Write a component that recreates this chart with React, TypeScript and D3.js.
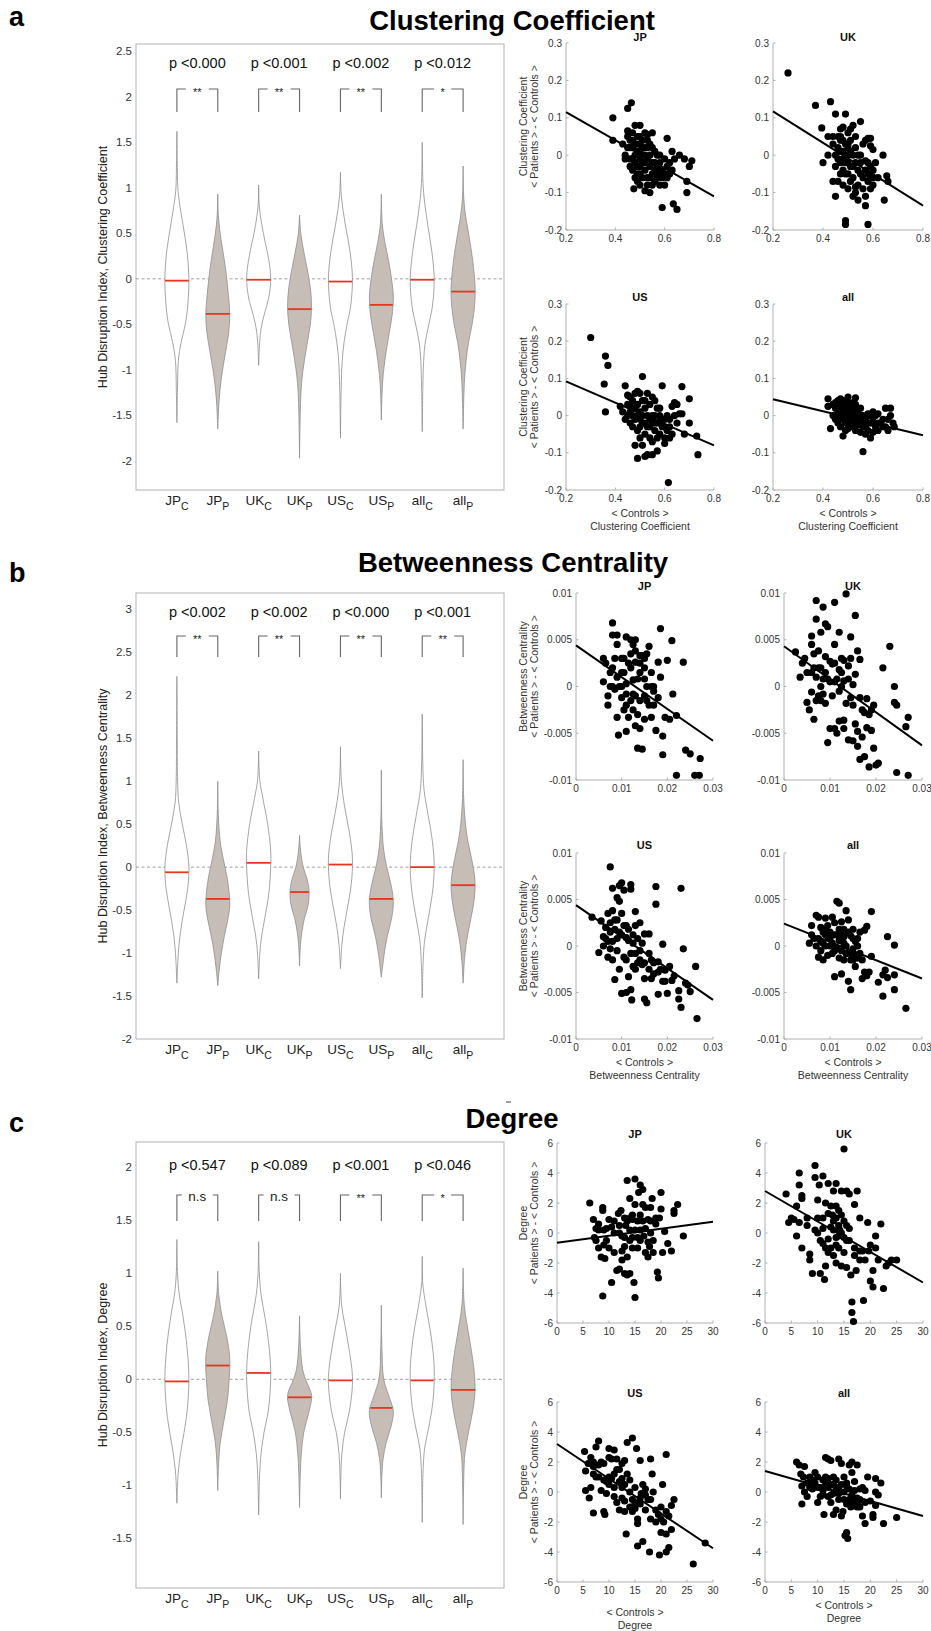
import React from 'react';
import * as d3 from 'd3';

const FONT = "'Liberation Sans', Arial, Helvetica, sans-serif";

// ---------- categories ----------
const violinGroups = ['JP', 'JP', 'UK', 'UK', 'US', 'US', 'all', 'all'];
const violinSubs = ['C', 'P', 'C', 'P', 'C', 'P', 'C', 'P'];
const scatterTitles = ['JP', 'UK', 'US', 'all'];

// ---------- a: Clustering Coefficient ----------
const ccPValues = ['p <0.000', 'p <0.001', 'p <0.002', 'p <0.012'];
const ccSig = ['**', '**', '**', '*'];
const ccMedians = [-0.02, -0.385, -0.01, -0.333, -0.03, -0.286, -0.01, -0.14];
const ccYTicks = [2.5, 2, 1.5, 1, 0.5, 0, -0.5, -1, -1.5, -2];
const ccViolins = [
  [[1.62,0],[1.3,0.03],[1.0,0.08],[0.85,0.2],[0.6,0.5],[0.3,0.85],[0,1.0],[-0.3,0.9],[-0.5,0.7],[-0.7,0.35],[-0.9,0.12],[-1.2,0.05],[-1.58,0]],
  [[0.93,0],[0.7,0.05],[0.5,0.2],[0.2,0.55],[0,0.75],[-0.2,0.9],[-0.4,1.0],[-0.6,0.9],[-0.8,0.65],[-1.0,0.4],[-1.2,0.2],[-1.4,0.08],[-1.65,0]],
  [[1.03,0],[0.8,0.05],[0.6,0.25],[0.4,0.55],[0.2,0.85],[0,1.0],[-0.2,0.85],[-0.4,0.45],[-0.55,0.2],[-0.7,0.08],[-0.95,0]],
  [[0.7,0],[0.5,0.1],[0.3,0.35],[0.1,0.65],[-0.1,0.9],[-0.3,1.0],[-0.5,0.9],[-0.7,0.65],[-0.9,0.4],[-1.1,0.2],[-1.3,0.1],[-1.6,0.04],[-1.97,0]],
  [[1.17,0],[0.9,0.08],[0.6,0.4],[0.3,0.8],[0,1.0],[-0.3,0.85],[-0.5,0.55],[-0.7,0.3],[-0.9,0.15],[-1.2,0.06],[-1.75,0]],
  [[0.93,0],[0.6,0.08],[0.4,0.3],[0.2,0.6],[0,0.85],[-0.2,1.0],[-0.4,0.9],[-0.6,0.65],[-0.8,0.4],[-1.0,0.2],[-1.2,0.08],[-1.55,0]],
  [[1.5,0],[1.1,0.05],[0.9,0.15],[0.6,0.45],[0.3,0.8],[0,1.0],[-0.3,0.85],[-0.5,0.55],[-0.7,0.25],[-0.9,0.12],[-1.2,0.05],[-1.68,0]],
  [[1.24,0],[0.9,0.05],[0.7,0.2],[0.5,0.45],[0.2,0.8],[-0.1,1.0],[-0.3,0.95],[-0.5,0.75],[-0.7,0.45],[-0.9,0.25],[-1.1,0.12],[-1.3,0.06],[-1.65,0]],
];
const ccXTicks = [0.2, 0.4, 0.6, 0.8];
const ccSYTicks = [-0.2, -0.1, 0, 0.1, 0.2, 0.3];
const ccFits = [[0.2,0.115,0.8,-0.11],[0.2,0.117,0.8,-0.135],[0.2,0.092,0.8,-0.08],[0.2,0.044,0.8,-0.053]];
const ccJP = [[0.39,0.1],[0.39,0.04],[0.45,0.125],[0.465,0.14],[0.43,0.03],[0.44,0.0],[0.45,0.05],[0.45,0.065],[0.46,0.02],[0.46,-0.01],[0.47,0.06],[0.47,0.04],[0.47,-0.04],[0.475,-0.09],[0.48,0.08],[0.48,0.0],[0.48,-0.02],[0.49,0.05],[0.49,0.03],[0.49,-0.03],[0.5,0.08],[0.5,0.01],[0.5,-0.01],[0.5,-0.05],[0.51,0.04],[0.51,0.0],[0.51,-0.02],[0.52,0.06],[0.52,0.02],[0.52,-0.04],[0.52,-0.095],[0.53,0.055],[0.53,-0.01],[0.53,-0.06],[0.54,0.03],[0.54,0.0],[0.54,-0.03],[0.54,-0.1],[0.55,0.06],[0.55,-0.02],[0.55,-0.05],[0.55,-0.08],[0.56,0.01],[0.56,-0.04],[0.57,0.0],[0.57,-0.03],[0.57,-0.06],[0.58,-0.02],[0.58,-0.05],[0.59,-0.04],[0.59,-0.14],[0.6,-0.01],[0.6,-0.05],[0.6,-0.08],[0.61,0.045],[0.61,-0.03],[0.62,-0.02],[0.62,-0.05],[0.63,0.01],[0.63,-0.04],[0.635,-0.13],[0.64,-0.01],[0.65,-0.145],[0.66,0.0],[0.68,-0.01],[0.69,-0.1],[0.69,-0.07],[0.7,-0.03],[0.71,-0.015],[0.47,0.02],[0.48,-0.06],[0.5,0.03],[0.53,0.02],[0.56,-0.07],[0.58,-0.08],[0.44,-0.01],[0.46,-0.03],[0.49,-0.07],[0.52,0.0],[0.51,-0.06],
  [0.45,0.02],[0.46,0.04],[0.47,-0.01],[0.48,0.03],[0.49,0.01],[0.5,0.05],[0.5,-0.03],[0.51,0.02],[0.52,-0.02],[0.53,0.04],[0.54,-0.06],[0.55,0.02],[0.56,-0.02],[0.57,-0.04],[0.58,0.0],[0.59,-0.06],[0.61,-0.06],[0.53,-0.08],[0.49,-0.05],[0.5,-0.08]];
const ccUK = [[0.26,0.22],[0.37,0.133],[0.395,0.073],[0.4,-0.02],[0.42,0.0],[0.42,0.05],[0.43,0.143],[0.44,-0.07],[0.44,0.03],[0.45,0.11],[0.45,0.0],[0.45,-0.11],[0.46,0.02],[0.46,-0.01],[0.46,-0.07],[0.47,0.07],[0.47,0.04],[0.47,-0.02],[0.48,0.075],[0.48,0.01],[0.48,-0.04],[0.48,-0.08],[0.49,0.11],[0.49,0.03],[0.49,-0.02],[0.49,-0.175],[0.49,-0.185],[0.5,0.06],[0.5,0.0],[0.5,-0.05],[0.5,-0.09],[0.51,0.04],[0.51,-0.03],[0.51,-0.07],[0.52,0.08],[0.52,0.0],[0.52,-0.06],[0.52,-0.11],[0.53,0.05],[0.53,-0.02],[0.53,-0.085],[0.54,0.0],[0.54,-0.04],[0.55,0.09],[0.55,0.0],[0.55,-0.02],[0.56,0.03],[0.56,-0.06],[0.57,0.04],[0.57,-0.015],[0.57,-0.11],[0.57,-0.135],[0.58,0.045],[0.58,-0.05],[0.58,-0.07],[0.58,-0.185],[0.59,0.045],[0.59,0.025],[0.59,-0.06],[0.59,-0.09],[0.6,0.015],[0.6,-0.04],[0.6,-0.08],[0.61,-0.02],[0.62,-0.06],[0.64,0.0],[0.645,-0.12],[0.655,-0.055],[0.66,-0.07],[0.44,0.05],[0.47,-0.05],[0.5,0.03],[0.53,-0.1],[0.54,-0.12],[0.56,-0.09],[0.51,0.07],[0.48,-0.01],
  [0.46,0.05],[0.47,0.01],[0.48,0.04],[0.49,-0.05],[0.5,0.02],[0.5,-0.02],[0.51,0.01],[0.52,-0.03],[0.53,0.02],[0.54,-0.08],[0.55,-0.05],[0.57,-0.04],[0.58,-0.02],[0.59,-0.03],[0.6,-0.06],[0.45,-0.03],[0.47,0.05]];
const ccUS = [[0.3,0.21],[0.36,0.16],[0.37,0.135],[0.355,0.085],[0.36,0.01],[0.42,0.025],[0.43,0.01],[0.44,0.08],[0.44,-0.01],[0.45,0.055],[0.45,0.03],[0.46,0.05],[0.46,-0.02],[0.47,0.04],[0.47,0.0],[0.47,-0.03],[0.48,0.02],[0.48,-0.08],[0.49,0.065],[0.49,0.0],[0.49,-0.04],[0.49,-0.115],[0.5,0.06],[0.5,0.01],[0.5,-0.03],[0.51,0.105],[0.51,0.04],[0.51,-0.02],[0.51,-0.08],[0.52,0.02],[0.52,-0.05],[0.52,-0.11],[0.53,0.0],[0.53,-0.03],[0.53,-0.105],[0.54,0.03],[0.54,-0.01],[0.54,-0.06],[0.55,0.05],[0.55,-0.02],[0.55,-0.07],[0.55,-0.105],[0.56,0.0],[0.56,-0.04],[0.57,0.02],[0.57,-0.02],[0.57,-0.095],[0.58,0.0],[0.58,-0.05],[0.59,0.08],[0.59,-0.03],[0.6,-0.01],[0.6,-0.06],[0.6,-0.075],[0.61,0.0],[0.61,-0.04],[0.615,-0.18],[0.62,-0.03],[0.63,0.025],[0.63,-0.05],[0.64,0.035],[0.64,0.03],[0.65,0.03],[0.65,-0.02],[0.66,0.005],[0.67,0.078],[0.67,0.005],[0.68,-0.05],[0.7,0.045],[0.7,-0.02],[0.73,-0.055],[0.735,-0.105],[0.46,0.01],[0.48,0.06],[0.5,-0.06],[0.53,0.06],[0.56,0.04],[0.58,-0.015],
  [0.45,0.0],[0.46,0.03],[0.47,0.02],[0.48,-0.01],[0.49,0.03],[0.5,-0.01],[0.51,0.0],[0.52,0.04],[0.52,-0.02],[0.54,-0.03],[0.55,0.0],[0.56,-0.02],[0.57,-0.06],[0.58,0.02],[0.6,-0.03],[0.62,-0.01],[0.64,0.0],[0.62,-0.06]];
const ccAll = [[0.42,0.045],[0.42,0.025],[0.43,-0.035],[0.44,0.03],[0.44,0.0],[0.45,0.02],[0.45,-0.01],[0.46,0.04],[0.46,0.01],[0.46,-0.02],[0.47,0.045],[0.47,0.03],[0.47,0.0],[0.47,-0.03],[0.48,0.04],[0.48,0.02],[0.48,-0.01],[0.48,-0.055],[0.49,0.035],[0.49,0.005],[0.49,-0.02],[0.5,0.05],[0.5,0.02],[0.5,0.0],[0.5,-0.015],[0.51,0.03],[0.51,-0.005],[0.51,-0.03],[0.52,0.02],[0.52,0.0],[0.52,-0.02],[0.53,0.048],[0.53,0.01],[0.53,-0.04],[0.54,0.0],[0.54,-0.025],[0.55,0.02],[0.55,-0.01],[0.55,-0.045],[0.56,0.0],[0.56,-0.03],[0.56,-0.097],[0.57,-0.01],[0.57,-0.05],[0.58,-0.02],[0.58,-0.04],[0.59,0.0],[0.59,-0.06],[0.6,-0.02],[0.6,-0.045],[0.61,0.0],[0.61,-0.03],[0.62,0.005],[0.62,-0.04],[0.63,-0.02],[0.64,-0.01],[0.65,0.02],[0.65,-0.03],[0.66,-0.04],[0.67,0.02],[0.67,0.0],[0.68,-0.02],[0.685,-0.03],[0.49,-0.04],[0.53,0.03],[0.47,0.015],[0.5,-0.035],[0.52,0.035],[0.58,0.005],[0.6,0.01],
  [0.45,0.035],[0.46,-0.005],[0.47,0.02],[0.48,0.0],[0.49,0.02],[0.49,-0.01],[0.5,0.035],[0.5,0.01],[0.51,0.015],[0.51,-0.015],[0.52,0.01],[0.53,-0.01],[0.53,-0.025],[0.54,0.015],[0.55,0.0],[0.56,-0.015],[0.57,-0.03],[0.59,-0.02],[0.6,-0.005],[0.62,-0.02],[0.64,-0.03],[0.66,-0.01]];

// ---------- b: Betweenness Centrality ----------
const bcPValues = ['p <0.002', 'p <0.002', 'p <0.000', 'p <0.001'];
const bcSig = ['**', '**', '**', '**'];
const bcMedians = [-0.06, -0.37, 0.05, -0.29, 0.03, -0.37, 0.0, -0.21];
const bcYTicks = [3, 2.5, 2, 1.5, 1, 0.5, 0, -0.5, -1, -1.5, -2];
const bcViolins = [
  [[2.22,0],[1.5,0.03],[1.0,0.06],[0.75,0.15],[0.5,0.45],[0.25,0.8],[0,1.0],[-0.25,0.9],[-0.5,0.6],[-0.75,0.3],[-1.0,0.12],[-1.35,0]],
  [[1.0,0],[0.6,0.05],[0.3,0.2],[0.1,0.45],[-0.1,0.75],[-0.3,0.95],[-0.45,1.0],[-0.6,0.85],[-0.8,0.55],[-1.0,0.3],[-1.2,0.12],[-1.38,0]],
  [[1.35,0],[1.0,0.1],[0.8,0.35],[0.5,0.75],[0.2,1.0],[0,1.0],[-0.3,0.85],[-0.6,0.5],[-0.8,0.25],[-1.0,0.1],[-1.3,0]],
  [[0.37,0],[0.2,0.08],[0,0.3],[-0.15,0.65],[-0.3,0.8],[-0.45,0.7],[-0.6,0.4],[-0.75,0.2],[-0.9,0.08],[-1.15,0]],
  [[1.4,0],[1.0,0.08],[0.7,0.35],[0.4,0.75],[0.1,1.0],[-0.2,0.9],[-0.5,0.55],[-0.7,0.3],[-0.9,0.12],[-1.18,0]],
  [[1.13,0],[0.5,0.05],[0.2,0.2],[0,0.45],[-0.2,0.8],[-0.4,1.0],[-0.6,0.85],[-0.8,0.5],[-1.0,0.25],[-1.28,0]],
  [[1.78,0],[1.2,0.05],[0.9,0.15],[0.6,0.5],[0.3,0.85],[0,1.0],[-0.3,0.85],[-0.6,0.5],[-0.85,0.2],[-1.1,0.08],[-1.52,0]],
  [[1.25,0],[0.8,0.05],[0.5,0.2],[0.3,0.4],[0.1,0.7],[-0.1,0.95],[-0.25,1.0],[-0.45,0.85],[-0.7,0.5],[-0.9,0.25],[-1.1,0.1],[-1.35,0]],
];
const bcXTicks = [0, 0.01, 0.02, 0.03];
const bcSYTicks = [-0.01, -0.005, 0, 0.005, 0.01];
const bcFits = [[0,0.0044,0.03,-0.0058],[0,0.0043,0.03,-0.0063],[0,0.0044,0.03,-0.0058],[0,0.0024,0.03,-0.0035]];
const bcJP = [[0.006,0.0005],[0.006,0.003],[0.0065,0.0025],[0.007,-0.001],[0.007,-0.002],[0.0075,0.0],[0.008,0.0068],[0.008,0.0055],[0.008,0.002],[0.008,0.0],[0.0085,-0.0003],[0.009,0.0055],[0.009,0.0045],[0.009,0.001],[0.009,-0.0033],[0.0093,-0.0052],[0.01,0.003],[0.01,0.0],[0.01,-0.0012],[0.0105,0.0015],[0.011,0.0053],[0.011,0.0003],[0.011,-0.002],[0.011,-0.0048],[0.0115,-0.0033],[0.012,0.005],[0.012,0.002],[0.012,-0.0015],[0.0125,0.0045],[0.0125,0.0007],[0.013,0.005],[0.013,0.0026],[0.013,-0.001],[0.013,-0.0042],[0.0135,-0.0066],[0.0135,-0.003],[0.014,0.0015],[0.014,-0.0015],[0.014,-0.0045],[0.0145,0.0033],[0.0145,-0.0067],[0.015,0.003],[0.015,0.002],[0.015,-0.0035],[0.0155,0.0],[0.016,0.0043],[0.016,-0.002],[0.0165,-0.0033],[0.017,0.0],[0.017,-0.0005],[0.0175,-0.0047],[0.018,-0.0012],[0.018,0.0026],[0.0185,0.001],[0.0185,0.0062],[0.019,-0.0053],[0.019,-0.0073],[0.0195,-0.0033],[0.02,0.0028],[0.0205,-0.0035],[0.021,0.0049],[0.0212,-0.0008],[0.022,-0.0031],[0.022,-0.0095],[0.0235,0.0026],[0.024,-0.0068],[0.025,-0.0072],[0.026,-0.0095],[0.027,-0.0095],[0.0272,-0.0077],[0.0105,0.003],[0.0125,-0.0008],[0.015,0.0008],[0.0165,0.0],[0.0095,0.0],[0.0115,0.0025],[0.014,0.0033],[0.0155,-0.0015],
  [0.0075,0.0015],[0.0085,0.003],[0.01,0.0015],[0.011,-0.0008],[0.012,0.0035],[0.0125,-0.0025],[0.0135,0.0008],[0.014,0.0025],[0.015,-0.001],[0.0155,0.0035],[0.0165,0.0015],[0.017,-0.002],[0.0105,-0.0025],[0.013,0.0038]];
const bcUK = [[0.0025,0.0037],[0.0035,0.001],[0.004,0.0025],[0.0045,0.003],[0.005,0.0015],[0.005,-0.0017],[0.0055,-0.0025],[0.006,0.0054],[0.006,0.0045],[0.006,0.0015],[0.006,-0.0006],[0.0065,0.002],[0.0065,-0.0035],[0.007,0.0092],[0.007,0.0072],[0.007,0.001],[0.0075,0.0038],[0.0075,-0.001],[0.008,0.0058],[0.008,0.002],[0.008,0.0],[0.008,-0.0015],[0.0085,0.0085],[0.0085,0.0008],[0.009,0.0067],[0.009,0.0032],[0.009,-0.0018],[0.0095,0.0064],[0.0095,-0.006],[0.01,0.0027],[0.01,-0.0045],[0.0105,0.0024],[0.011,0.009],[0.011,0.0045],[0.011,0.0005],[0.011,-0.0045],[0.0115,-0.005],[0.012,0.0058],[0.012,0.0018],[0.012,-0.0037],[0.0125,0.003],[0.0125,0.0],[0.013,0.0028],[0.013,-0.0036],[0.013,-0.0045],[0.0135,0.0099],[0.014,0.0008],[0.014,-0.0057],[0.0145,0.0053],[0.0145,-0.0012],[0.015,-0.002],[0.015,-0.0058],[0.0155,0.0076],[0.0155,0.0013],[0.0155,-0.004],[0.016,0.0038],[0.016,-0.0048],[0.016,-0.0064],[0.0165,0.0029],[0.0165,-0.0078],[0.017,-0.0025],[0.017,-0.0054],[0.0175,-0.0075],[0.018,-0.0013],[0.018,-0.0044],[0.0185,-0.0086],[0.019,-0.0025],[0.019,-0.0047],[0.0195,-0.0066],[0.0195,-0.002],[0.02,-0.0084],[0.0205,-0.0082],[0.0215,0.002],[0.023,0.0043],[0.024,0.0],[0.024,-0.0017],[0.0245,-0.002],[0.0245,-0.0092],[0.0265,-0.0043],[0.027,-0.0033],[0.027,-0.0095],[0.0115,0.0008],[0.013,0.0006],[0.0145,0.003],[0.0095,0.0008],
  [0.0065,0.0035],[0.007,-0.0015],[0.0075,0.002],[0.0085,-0.0008],[0.009,0.0015],[0.01,0.0005],[0.0105,-0.001],[0.011,0.0025],[0.012,-0.0005],[0.0125,0.0015],[0.0135,-0.0018],[0.014,0.0022],[0.015,0.0002],[0.0165,-0.0012],[0.0175,-0.0028],[0.0185,-0.003]];
const bcUS = [[0.0035,0.0031],[0.005,-0.0007],[0.0055,0.0027],[0.006,0.001],[0.006,0.0],[0.0065,0.002],[0.007,0.0035],[0.007,0.0005],[0.007,-0.0012],[0.0075,0.0085],[0.0075,0.0025],[0.0075,-0.0003],[0.008,0.0062],[0.008,0.0038],[0.008,0.0005],[0.008,-0.0015],[0.0085,0.0018],[0.0085,-0.0036],[0.009,0.0052],[0.009,0.0028],[0.009,-0.0005],[0.0095,0.0065],[0.0095,0.0048],[0.0095,0.0015],[0.0095,-0.0025],[0.01,0.0068],[0.01,0.0035],[0.01,-0.0051],[0.0105,0.006],[0.0105,-0.0012],[0.011,0.0022],[0.011,-0.005],[0.0115,0.0006],[0.0115,-0.0033],[0.012,0.0066],[0.012,0.0061],[0.012,-0.0047],[0.0122,-0.0058],[0.0125,0.0012],[0.0125,-0.0022],[0.013,0.0037],[0.013,0.0022],[0.013,-0.0008],[0.0135,0.0008],[0.0135,-0.0018],[0.014,0.0025],[0.014,-0.0005],[0.0145,-0.002],[0.015,0.0013],[0.015,-0.0035],[0.015,-0.0057],[0.0155,-0.0061],[0.016,0.0013],[0.016,-0.0008],[0.0165,-0.0035],[0.017,-0.003],[0.0175,0.0064],[0.0175,0.0045],[0.018,-0.0017],[0.018,-0.0052],[0.0185,-0.0025],[0.019,0.0002],[0.019,-0.0038],[0.0195,-0.0026],[0.02,-0.0051],[0.0205,-0.0022],[0.021,-0.0037],[0.0215,-0.0032],[0.0225,-0.0048],[0.0225,-0.0057],[0.023,0.0062],[0.023,-0.0066],[0.0235,-0.0003],[0.024,-0.004],[0.0245,-0.0042],[0.025,-0.0049],[0.0262,-0.0022],[0.0265,-0.0078],[0.0165,-0.0015],[0.0145,0.0003],[0.0125,0.0003],[0.011,0.0009],
  [0.0065,0.0008],[0.0075,0.0015],[0.0085,0.0028],[0.009,0.0008],[0.01,0.0012],[0.0105,0.0022],[0.011,-0.0015],[0.0115,0.0018],[0.012,-0.0008],[0.013,-0.0025],[0.014,-0.0015],[0.015,-0.0018],[0.016,-0.0025],[0.017,-0.0018],[0.018,-0.0028],[0.0195,-0.0038]];
const bcAll = [[0.0055,0.0003],[0.006,0.0022],[0.006,0.0012],[0.0065,0.0008],[0.007,0.0033],[0.007,0.0],[0.0075,0.0031],[0.0075,-0.0012],[0.008,0.002],[0.008,0.0005],[0.008,-0.0005],[0.0085,0.0015],[0.0085,-0.0015],[0.009,0.003],[0.009,0.0018],[0.009,0.0],[0.0095,0.001],[0.0095,-0.001],[0.01,0.0015],[0.01,0.0],[0.0105,0.0031],[0.0105,0.0003],[0.011,0.0025],[0.011,-0.0005],[0.011,-0.0033],[0.0115,0.0048],[0.0115,0.0012],[0.012,0.0046],[0.012,0.0006],[0.012,-0.0013],[0.0125,0.0026],[0.0125,-0.003],[0.013,0.0018],[0.013,0.0003],[0.013,-0.0015],[0.0135,0.0038],[0.0135,0.0],[0.014,0.0028],[0.014,-0.0007],[0.014,-0.0038],[0.0145,-0.0047],[0.0145,0.0011],[0.015,0.0018],[0.015,-0.0003],[0.015,-0.0015],[0.0155,0.0005],[0.0155,-0.0022],[0.016,-0.0013],[0.016,0.0],[0.0165,-0.0008],[0.017,-0.0035],[0.0175,0.0017],[0.0175,-0.0028],[0.018,0.0021],[0.018,-0.0032],[0.0185,-0.0028],[0.019,0.0037],[0.019,-0.0011],[0.0205,-0.0039],[0.0215,-0.0031],[0.0215,-0.0054],[0.022,-0.0026],[0.0225,0.001],[0.0225,-0.0034],[0.024,0.0001],[0.024,-0.0031],[0.024,-0.0047],[0.0265,-0.0067],[0.0125,0.0012],[0.0095,0.0022],[0.0145,-0.0008],[0.0165,0.0015],
  [0.0075,0.0008],[0.0085,0.0003],[0.009,0.0012],[0.01,0.0008],[0.0105,-0.0008],[0.011,0.0012],[0.0115,-0.0002],[0.012,0.0018],[0.0125,-0.0005],[0.013,0.001],[0.0135,-0.0008],[0.014,0.0015],[0.0145,-0.0015],[0.015,0.0008],[0.0155,-0.001],[0.016,0.0008],[0.017,-0.0015]];

// ---------- c: Degree ----------
const dgPValues = ['p <0.547', 'p <0.089', 'p <0.001', 'p <0.046'];
const dgSig = ['n.s', 'n.s', '**', '*'];
const dgMedians = [-0.02, 0.13, 0.06, -0.17, -0.01, -0.27, -0.01, -0.1];
const dgYTicks = [2, 1.5, 1, 0.5, 0, -0.5, -1, -1.5];
const dgViolins = [
  [[1.32,0],[1.0,0.05],[0.8,0.2],[0.6,0.5],[0.3,0.85],[0,1.0],[-0.3,0.85],[-0.5,0.6],[-0.7,0.3],[-0.9,0.1],[-1.17,0]],
  [[1.02,0],[0.8,0.08],[0.6,0.35],[0.4,0.75],[0.2,1.0],[0,0.95],[-0.2,0.8],[-0.4,0.5],[-0.6,0.2],[-0.8,0.07],[-1.05,0]],
  [[1.3,0],[1.0,0.05],[0.8,0.2],[0.5,0.65],[0.2,0.95],[0,1.0],[-0.3,0.8],[-0.5,0.45],[-0.7,0.2],[-0.9,0.08],[-1.28,0]],
  [[0.6,0],[0.3,0.08],[0.1,0.25],[0,0.5],[-0.15,1.0],[-0.3,0.8],[-0.5,0.35],[-0.7,0.15],[-0.9,0.06],[-1.21,0]],
  [[1.0,0],[0.7,0.1],[0.4,0.55],[0.1,0.95],[-0.05,1.0],[-0.3,0.75],[-0.5,0.35],[-0.7,0.12],[-0.9,0.04],[-1.13,0]],
  [[0.7,0],[0.3,0.05],[0,0.2],[-0.15,0.6],[-0.3,1.0],[-0.45,0.8],[-0.6,0.4],[-0.75,0.15],[-0.9,0.05],[-1.12,0]],
  [[1.16,0],[0.9,0.05],[0.7,0.3],[0.4,0.75],[0.1,1.0],[-0.2,0.9],[-0.45,0.55],[-0.65,0.2],[-0.9,0.06],[-1.35,0]],
  [[1.05,0],[0.7,0.1],[0.4,0.5],[0.15,0.85],[-0.1,1.0],[-0.3,0.8],[-0.5,0.45],[-0.7,0.15],[-0.9,0.06],[-1.37,0]],
];
const dgXTicks = [0, 5, 10, 15, 20, 25, 30];
const dgSYTicks = [-6, -4, -2, 0, 2, 4, 6];
const dgFits = [[0,-0.65,30,0.75],[0,2.8,30,-3.3],[0,3.2,30,-3.75],[0,1.4,30,-1.6]];
const dgJP = [[6.3,2.0],[7.0,0.9],[7.2,-0.3],[7.5,-0.5],[7.5,0.3],[8,0.6],[8,-1.0],[8.5,-1.6],[8.8,1.7],[8.8,1.5],[8.8,-4.2],[9,0.2],[9,-0.8],[9.2,-1.7],[9.5,-0.5],[10,0.9],[10.5,-3.3],[11,0.0],[11,-1.3],[11.5,-2.5],[11.8,1.3],[12,-2.4],[12.3,1.5],[12.5,-0.2],[12.5,-1.2],[13,-0.9],[13,-2.7],[13.2,0.5],[13.5,3.5],[13.5,-1.6],[13.5,-2.8],[14,2.3],[14,0.2],[14,-0.5],[14,-2.7],[14.5,1.2],[14.5,-0.3],[14.8,-3.3],[15,3.6],[15,1.9],[15,-4.3],[15.5,0.8],[15.5,-1.0],[15.7,2.7],[16,3.2],[16,0.2],[16,-0.5],[16.5,1.9],[16.5,2.9],[16.7,-0.2],[17,1.7],[17,-1.3],[17.5,0.9],[17.5,-1.6],[18,0.0],[18,1.7],[18.3,2.3],[18.5,-0.5],[18.5,-1.3],[19,0.6],[19,1.0],[19.3,-2.6],[19.5,-3.0],[19.7,1.0],[20,1.6],[20,2.7],[20.3,-1.3],[20.7,0.1],[21.3,-0.7],[22,-1.2],[22.5,1.5],[22.5,1.3],[23.2,1.9],[24.3,-0.2],[10.5,0.4],[12,0.0],[14.5,0.9],[16.5,0.8],[13,1.0],[17.8,-0.9],
  [8,0.2],[9.5,0.3],[10,-1.0],[11,0.8],[12,0.5],[13,-0.3],[13.5,0.8],[14.5,-1.0],[15,0.2],[15.5,-0.3],[16,1.2],[17,0.3],[17.5,-0.6],[18,0.8],[12.5,-1.8],[14,1.0]];
const dgUK = [[4,2.6],[4.5,0.7],[5,1.0],[5.5,0.9],[6,1.8],[6,-0.2],[6.5,4.0],[6.5,3.2],[6.5,0.7],[7,2.5],[7,2.3],[7,-1.0],[8,0.5],[8.5,-1.4],[8.5,-1.8],[9,-2.7],[9.5,4.5],[9.5,3.7],[9.5,0.2],[10,0.0],[10,2.2],[10.3,3.2],[10.5,-0.5],[10.5,-2.7],[11,3.8],[11,1.0],[11,-0.7],[11.3,-3.1],[11.5,2.0],[11.5,-2.2],[12,1.3],[12,-0.4],[12,3.3],[12.5,0.4],[12.5,-1.0],[13,2.8],[13,0.8],[13,-1.5],[13.5,3.3],[13.5,1.8],[13.5,-0.3],[13.5,-2.0],[14,1.5],[14,0.5],[14,-1.0],[14.5,2.8],[14.5,0.0],[14.5,-2.2],[15,5.6],[15,0.8],[15,-1.3],[15.5,2.8],[15.5,0.5],[15.5,-2.3],[16,2.6],[16,-0.5],[16.3,-2.8],[16.5,-4.6],[16.5,-5.3],[16.8,-5.9],[17,1.9],[17,-1.0],[17.3,-2.5],[17.5,2.8],[18,1.0],[18,-1.8],[18.5,-1.2],[18.7,-4.5],[19,-1.8],[19.5,0.7],[19.7,-1.2],[20,-3.2],[20,-0.8],[20.5,-3.6],[20.5,-2.5],[21,-1.0],[21,-0.2],[21.5,-1.8],[22,0.6],[22.5,-3.7],[23,-2.2],[24,-1.8],[25,-1.8],[23.5,-2.0],[12.8,1.2],[14.2,0.2],
  [8,1.0],[10,1.0],[11,0.3],[11.5,-1.0],[12.5,1.8],[13,0.2],[13.5,1.0],[14,-0.2],[14.5,1.2],[15,-0.3],[15.5,-0.5],[16,0.3],[17,-1.5],[12,-1.3],[13.5,-0.8],[18,-1.2]];
const dgUS = [[5.3,2.7],[5.5,1.4],[5.5,0.1],[6,1.9],[6.2,-0.4],[6.5,0.3],[6.5,2.3],[7,2.0],[7,1.7],[7,-1.4],[7.5,3.0],[7.5,1.0],[8,3.4],[8,1.8],[8.5,2.0],[8.5,0.1],[9,-1.3],[9,0.8],[9.2,-1.5],[9.5,0.7],[9.5,-0.1],[10,2.9],[10,2.3],[10,1.0],[10.5,2.2],[11,2.8],[11,1.2],[11,0.3],[11.5,2.2],[11.5,1.5],[11.5,-0.7],[12,0.7],[12,-1.2],[12.5,1.9],[12.5,-0.4],[13,2.1],[13,0.5],[13,-1.3],[13.3,-2.8],[13.5,3.3],[13.5,1.2],[14,0.0],[14,-1.0],[14.5,3.6],[14.5,-1.3],[15,0.3],[15,-0.7],[15.3,2.9],[15.5,-1.8],[15.5,-2.1],[15.5,-3.6],[16,2.1],[16,-0.4],[16.5,0.5],[16.5,-3.3],[17,-0.2],[17,-1.2],[17.5,-0.5],[17.8,-4.0],[18,2.2],[18,-1.8],[18.3,1.2],[18.5,0.0],[19,-2.0],[19.5,-1.5],[19.7,-4.2],[20,-2.7],[20,-1.0],[20.3,0.5],[20.5,-2.0],[21,2.5],[21,-1.3],[21,-2.8],[21,-4.0],[21.5,-3.7],[21.5,-1.6],[22,-2.5],[22.5,-0.5],[22,-0.9],[26.2,-4.8],[28.5,-3.4],[12.5,0.9],[14.5,-0.5],[16.2,-0.1],
  [7,1.2],[8,1.0],[9,1.9],[10,0.5],[10.5,0.9],[11,-0.3],[12,1.5],[12.5,0.3],[13,-0.6],[14,0.8],[14.5,-1.0],[15,-1.1],[16,-0.8],[17,0.2],[18,-0.5],[19,-1.2],[20,-1.8]];
const dgAll = [[6,2.0],[6.5,1.8],[6.8,1.2],[7,0.4],[7,-0.8],[7.3,1.0],[7.5,1.7],[7.5,0.0],[8,0.6],[8,-0.3],[8.5,1.0],[9,0.3],[9.5,1.3],[9.5,0.6],[10,-0.7],[10,1.0],[10.5,-0.3],[10.5,0.3],[11,0.8],[11.2,-1.5],[11.5,2.3],[11.5,0.5],[12,2.2],[12,-0.3],[12.5,2.1],[12.5,0.5],[12.5,-0.7],[13,1.0],[13,-0.1],[13,-1.5],[13.5,0.8],[13.5,-1.2],[14,2.2],[14,0.3],[14,-0.5],[14.5,1.9],[14.5,-1.6],[14.8,-1.3],[15,1.0],[15,0.0],[15.2,-2.9],[15.5,-2.7],[15.7,-3.1],[15.5,0.4],[16,1.8],[16,-0.5],[16.3,-1.0],[16.5,2.0],[16.5,1.3],[16.5,-0.2],[17,0.7],[17,-0.8],[17.5,1.8],[17.5,-0.4],[18,-1.0],[18,0.2],[18.5,0.3],[18.5,-1.6],[19,-2.1],[19,-0.7],[19.5,1.0],[20,-0.6],[20.5,-1.7],[20.5,-1.5],[21,0.9],[21,-0.9],[21,0.0],[21.5,-0.2],[22,0.6],[22.5,-2.1],[25,-1.7],[9,0.2],[11,0.1],[12,0.9],[15.5,0.6],[17.8,-0.6],
  [8.5,0.3],[9,0.8],[10,0.3],[11,-0.2],[11.5,1.0],[12,0.3],[12.5,-0.2],[13,0.5],[13.5,0.2],[14,-0.1],[14.5,0.5],[15,-0.5],[15.5,-0.8],[16,0.2],[16.5,-0.6],[17,0.1],[17.5,-1.0],[18,-0.5],[19,0.1]];

// ---------- drawing ----------
const VX0 = 136, VX1 = 504;
const FILL_P = '#c6bdb7';
const OUTLINE = '#8f8f8f';
const RED = '#e8351f';

function widthAt(profile: number[][], v: number) {
  for (let i = 0; i < profile.length - 1; i++) {
    const [a, wa] = profile[i];
    const [b, wb] = profile[i + 1];
    if (v <= a && v >= b) return wa + (wb - wa) * ((a - v) / (a - b));
  }
  return 0;
}

function ViolinPanel(props: any) {
  const { y0, y1, domain, yTicks, shapes, medians, pValues, sig, pY, brTop, brBot, yLabel } = props;
  const x = d3.scaleLinear().domain([0, 9]).range([VX0, VX1]);
  const y = d3.scaleLinear().domain(domain).range([y1, y0]);
  const w = d3.scaleLinear().domain([0, 1]).range([0, 12]);
  const sigHalf: Record<string, number> = { '**': 11.5, '*': 8.5, 'n.s': 15.5 };
  return (
    <g fontFamily={FONT}>
      <rect x={VX0} y={y0} width={VX1 - VX0} height={y1 - y0} fill="none" stroke="#b3b3b3" strokeWidth={1} />
      {yTicks.map((t: number) => (
        <text key={t} x={VX0 - 4} y={y(t) + 4} fontSize={11.5} fill="#333" textAnchor="end">{String(t)}</text>
      ))}
      <text transform={`translate(107,${(y0 + y1) / 2}) rotate(-90)`} fontSize={12.5} fill="#222" textAnchor="middle">{yLabel}</text>
      <line x1={VX0} x2={VX1} y1={y(0)} y2={y(0)} stroke="#a0a0a0" strokeWidth={1} strokeDasharray="3,2.5" />
      {shapes.map((p: number[][], i: number) => {
        const cx = x(i + 1);
        const area = d3.area<number[]>()
          .y((d) => y(d[0]))
          .x0((d) => cx - w(d[1]))
          .x1((d) => cx + w(d[1]))
          .curve(d3.curveCatmullRom.alpha(0.5));
        const mw = w(widthAt(p, medians[i]));
        return (
          <g key={i}>
            <path d={area(p) || ''} fill={i % 2 === 1 ? FILL_P : 'white'} stroke={OUTLINE} strokeWidth={0.8} />
            <line x1={cx - mw} x2={cx + mw} y1={y(medians[i])} y2={y(medians[i])} stroke={RED} strokeWidth={1.8} />
          </g>
        );
      })}
      {violinGroups.map((g, i) => (
        <text key={i} x={x(i + 1)} y={y1 + 15} fontSize={13.5} fill="#222" textAnchor="middle">
          <tspan>{g}</tspan><tspan dy={5} fontSize={10.5}>{violinSubs[i]}</tspan>
        </text>
      ))}
      {pValues.map((pv: string, k: number) => {
        const xa = x(2 * k + 1), xb = x(2 * k + 2), xm = (xa + xb) / 2;
        const hg = sigHalf[sig[k]];
        return (
          <g key={k}>
            <text x={xm} y={pY} fontSize={14.5} fill="#111" textAnchor="middle">{pv}</text>
            <path d={`M${xa},${brBot}V${brTop}H${xm - hg}M${xm + hg},${brTop}H${xb}V${brBot}`} fill="none" stroke="#666" strokeWidth={1.1} />
            <text x={xm} y={sig[k] === 'n.s' ? brTop + 6 : brTop + 7} fontSize={sig[k] === 'n.s' ? 13.5 : 11} fill="#222" textAnchor="middle">{sig[k]}</text>
          </g>
        );
      })}
    </g>
  );
}

function Scatter(props: any) {
  const { pts, fit, xr, yr, xd, yd, xt, yt, title, titleDy, ylab, xlab, xlabDy } = props;
  const x = d3.scaleLinear().domain(xd).range(xr);
  const y = d3.scaleLinear().domain(yd).range([yr[1], yr[0]]);
  const axis = '#b0b0b0';
  const yc = (yr[0] + yr[1]) / 2 - 10;
  return (
    <g fontFamily={FONT}>
      <line x1={xr[0]} x2={xr[0]} y1={yr[0]} y2={yr[1]} stroke={axis} strokeWidth={1} />
      <line x1={xr[0]} x2={xr[1]} y1={yr[1]} y2={yr[1]} stroke={axis} strokeWidth={1} />
      {yt.map((t: number) => (
        <g key={'y' + t}>
          <line x1={xr[0]} x2={xr[0] + 2.5} y1={y(t)} y2={y(t)} stroke={axis} />
          <text x={xr[0] - 4} y={y(t) + 3.5} fontSize={10} fill="#333" textAnchor="end">{String(t)}</text>
        </g>
      ))}
      {xt.map((t: number) => (
        <g key={'x' + t}>
          <line x1={x(t)} x2={x(t)} y1={yr[1]} y2={yr[1] - 2.5} stroke={axis} />
          <text x={x(t)} y={yr[1] + 12} fontSize={10} fill="#333" textAnchor="middle">{String(t)}</text>
        </g>
      ))}
      {pts.map((p: number[], i: number) => (
        <circle key={i} cx={x(p[0])} cy={y(p[1])} r={3.6} fill="#000" />
      ))}
      <line x1={x(fit[0])} y1={y(fit[1])} x2={x(fit[2])} y2={y(fit[3])} stroke="#000" strokeWidth={2} />
      <text x={(xr[0] + xr[1]) / 2} y={yr[0] + titleDy} fontSize={11} fontWeight="bold" fill="#111" textAnchor="middle">{title}</text>
      {ylab && (
        <g>
          <text transform={`translate(527,${yc}) rotate(-90)`} fontSize={10.5} fill="#333" textAnchor="middle">{ylab}</text>
          <text transform={`translate(538,${yc}) rotate(-90)`} fontSize={10.5} fill="#333" textAnchor="middle">{'< Patients > - < Controls >'}</text>
        </g>
      )}
      {xlab && (
        <g>
          <text x={(xr[0] + xr[1]) / 2} y={yr[1] + 27 + (xlabDy || 0)} fontSize={10.5} fill="#333" textAnchor="middle">{'< Controls >'}</text>
          <text x={(xr[0] + xr[1]) / 2} y={yr[1] + 40 + (xlabDy || 0)} fontSize={10.5} fill="#333" textAnchor="middle">{xlab}</text>
        </g>
      )}
    </g>
  );
}

function ScatterGroup(props: any) {
  const { sets, fits, left, right, top, bottom, xd, yd, xt, yt, name, titleDy, xlabDy } = props;
  const boxes = [
    { xr: left, yr: top, ylab: name, xlab: null },
    { xr: right, yr: top, ylab: null, xlab: null },
    { xr: left, yr: bottom, ylab: name, xlab: name },
    { xr: right, yr: bottom, ylab: null, xlab: name },
  ];
  return (
    <g>
      {boxes.map((b, i) => (
        <Scatter key={i} pts={sets[i]} fit={fits[i]} xr={b.xr} yr={b.yr} xd={xd} yd={yd} xt={xt} yt={yt}
          title={scatterTitles[i]} titleDy={i < 2 ? titleDy[0] : titleDy[1]} ylab={b.ylab} xlab={b.xlab} xlabDy={xlabDy ? xlabDy[i] : 0} />
      ))}
    </g>
  );
}

export default function App() {
  return (
    <svg width={931} height={1631} style={{ position: 'absolute', left: 0, top: 0, background: '#fff' }}>
      <rect x={0} y={0} width={931} height={1631} fill="#fff" />
      <g fontFamily={FONT} fontWeight="bold" fill="#000">
        <text x={9} y={26} fontSize={27}>a</text>
        <text x={9} y={582} fontSize={27}>b</text>
        <text x={9} y={1132} fontSize={27}>c</text>
        <text x={512} y={30} fontSize={27.5} textAnchor="middle">Clustering Coefficient</text>
        <text x={513} y={572} fontSize={27.5} textAnchor="middle">Betweenness Centrality</text>
        <text x={512} y={1128} fontSize={27.5} textAnchor="middle">Degree</text>
      </g>
      <line x1={506} x2={511} y1={1102} y2={1102} stroke="#444" strokeWidth={1} />

      <ViolinPanel y0={44} y1={490} domain={[-2.32, 2.58]} yTicks={ccYTicks} shapes={ccViolins} medians={ccMedians}
        pValues={ccPValues} sig={ccSig} pY={68} brTop={89} brBot={112} yLabel="Hub Disruption Index, Clustering Coefficient" />
      <ViolinPanel y0={593} y1={1039} domain={[-2, 3.19]} yTicks={bcYTicks} shapes={bcViolins} medians={bcMedians}
        pValues={bcPValues} sig={bcSig} pY={617} brTop={636} brBot={657} yLabel="Hub Disruption Index, Betweenness Centrality" />
      <ViolinPanel y0={1142} y1={1588} domain={[-1.97, 2.24]} yTicks={dgYTicks} shapes={dgViolins} medians={dgMedians}
        pValues={dgPValues} sig={dgSig} pY={1170} brTop={1195} brBot={1221} yLabel="Hub Disruption Index, Degree" />

      <ScatterGroup sets={[ccJP, ccUK, ccUS, ccAll]} fits={ccFits} left={[566, 714]} right={[773, 923]} top={[43, 230]} bottom={[304, 490]}
        xd={[0.2, 0.8]} yd={[-0.2, 0.3]} xt={ccXTicks} yt={ccSYTicks} name="Clustering Coefficient" titleDy={[-2, -3]} />
      <ScatterGroup sets={[bcJP, bcUK, bcUS, bcAll]} fits={bcFits} left={[576, 713]} right={[784, 922]} top={[593, 780]} bottom={[853, 1039]}
        xd={[0, 0.03]} yd={[-0.01, 0.01]} xt={bcXTicks} yt={bcSYTicks} name="Betweenness Centrality" titleDy={[-3, -4]} />
      <ScatterGroup sets={[dgJP, dgUK, dgUS, dgAll]} fits={dgFits} left={[557, 713]} right={[765, 923]} top={[1143, 1323]} bottom={[1402, 1582]}
        xd={[0, 30]} yd={[-6, 6]} xt={dgXTicks} yt={dgSYTicks} name="Degree" titleDy={[-5, -5]} xlabDy={[0, 0, 7, 0]} />
    </svg>
  );
}
